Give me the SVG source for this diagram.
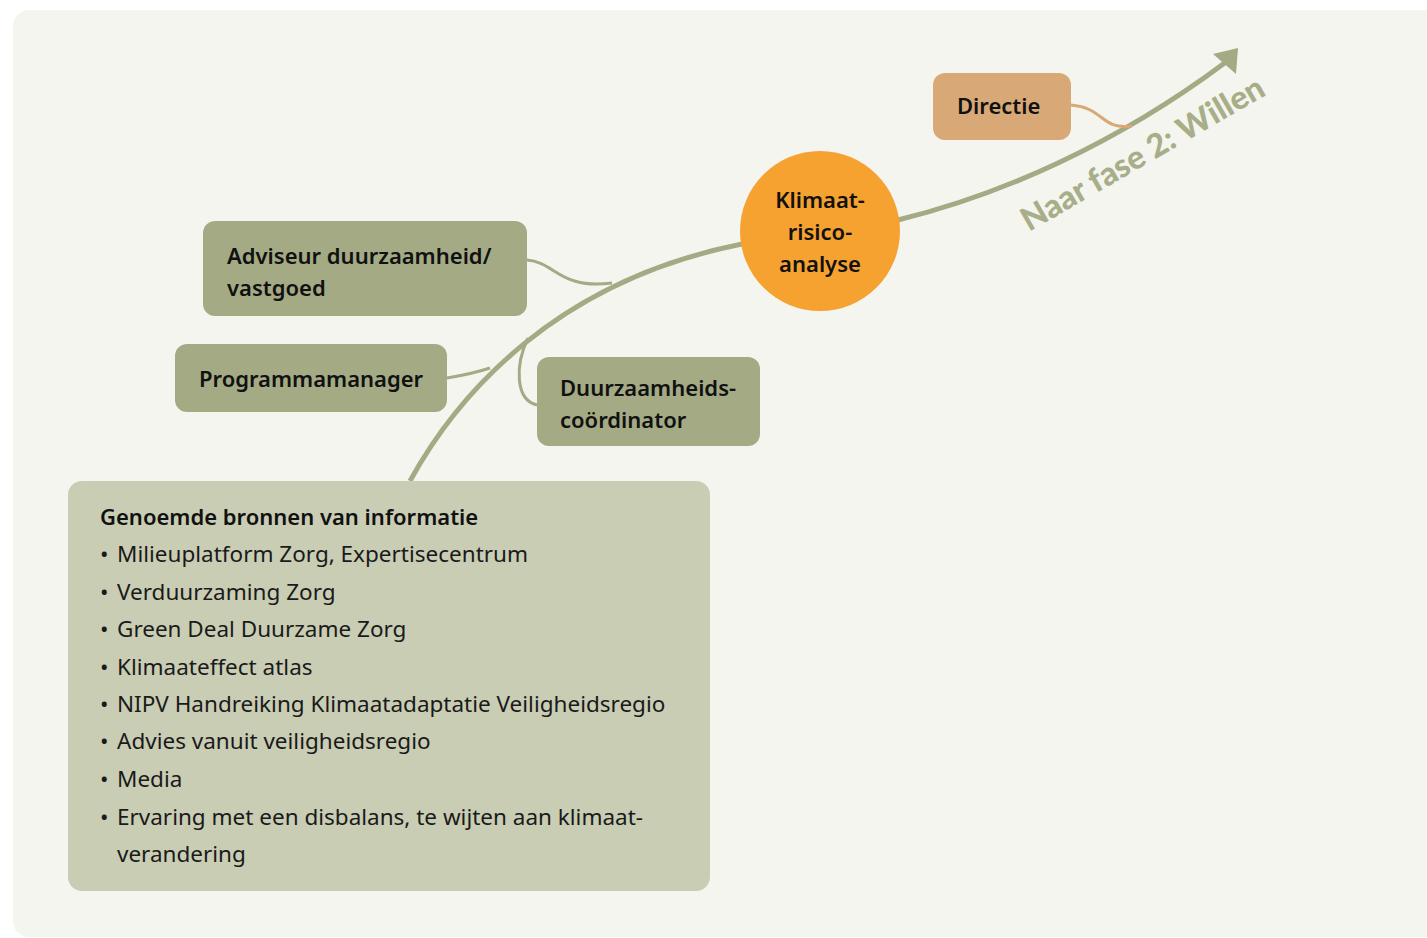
<svg xmlns="http://www.w3.org/2000/svg" width="1427" height="938" viewBox="0 0 1427 938">
<style>
.bg{fill:#f5f5f0}
.node{fill:#a4ab84}
.nt{font-family:"Noto Sans","Open Sans",sans-serif;font-weight:600;font-size:22px;fill:#111}
.it{font-family:"Noto Sans","Open Sans",sans-serif;font-size:22.5px;fill:#1a1a1a}
.main{fill:none;stroke:#a4ab84;stroke-width:5}
.thin{fill:none;stroke:#a4ab84;stroke-width:3}
</style>
<rect class="bg" x="13" y="10" width="1440" height="927" rx="16"/>
<g id="connectors">
<path class="main" d="M410,481 C460,390 560,280 742,244"/>
<path class="main" d="M898,220 C1000,195 1115,145 1226,62"/>
<path d="M1238,48 L1236,74 L1213,54 Z" fill="#a4ab84"/>
<path d="M1071,105 C1105,108 1100,130 1132,126" fill="none" stroke="#d9a877" stroke-width="3"/>
<path class="thin" d="M527,260 C555,262 560,290 612,283"/>
<path class="thin" d="M447,378 C465,375 478,372 490,368"/>
<path class="thin" d="M537,405 C515,400 515,365 528,338"/>
</g>
<g id="directie">
<rect x="933" y="73" width="138" height="67" rx="12" fill="#d9a877"/>
<text class="nt" x="957" y="114">Directie</text>
</g>
<g id="klimaat">
<circle cx="820" cy="231" r="80" fill="#f5a230"/>
<text class="nt" text-anchor="middle"><tspan x="820" y="208">Klimaat-</tspan><tspan x="820" y="240">risico-</tspan><tspan x="820" y="272">analyse</tspan></text>
</g>
<g id="adviseur">
<rect class="node" x="203" y="221" width="324" height="95" rx="12"/>
<text class="nt"><tspan x="227" y="264">Adviseur duurzaamheid/</tspan><tspan x="227" y="296">vastgoed</tspan></text>
</g>
<g id="programmamanager">
<rect class="node" x="175" y="344" width="272" height="68" rx="12"/>
<text class="nt" x="199" y="387">Programmamanager</text>
</g>
<g id="duurzaamheids">
<rect class="node" x="537" y="357" width="223" height="89" rx="12"/>
<text class="nt"><tspan x="560" y="396">Duurzaamheids-</tspan><tspan x="560" y="428">coördinator</tspan></text>
</g>
<g id="naar">
<text x="0" y="0" transform="translate(1029,232) rotate(-30)" font-family="Lato,'Open Sans',sans-serif" font-weight="900" font-size="32.5" fill="#a8ae88">Naar fase 2: Willen</text>
</g>
<g id="info">
<rect x="68" y="481" width="642" height="410" rx="14" fill="#c9cdb4"/>
<text class="nt" x="100" y="525">Genoemde bronnen van informatie</text>
<text class="it">
<tspan x="100" y="562">•</tspan><tspan x="117" y="562">Milieuplatform Zorg, Expertisecentrum</tspan>
<tspan x="100" y="600">•</tspan><tspan x="117" y="600">Verduurzaming Zorg</tspan>
<tspan x="100" y="637">•</tspan><tspan x="117" y="637">Green Deal Duurzame Zorg</tspan>
<tspan x="100" y="675">•</tspan><tspan x="117" y="675">Klimaateffect atlas</tspan>
<tspan x="100" y="712">•</tspan><tspan x="117" y="712">NIPV Handreiking Klimaatadaptatie Veiligheidsregio</tspan>
<tspan x="100" y="749">•</tspan><tspan x="117" y="749">Advies vanuit veiligheidsregio</tspan>
<tspan x="100" y="787">•</tspan><tspan x="117" y="787">Media</tspan>
<tspan x="100" y="825">•</tspan><tspan x="117" y="825">Ervaring met een disbalans, te wijten aan klimaat-</tspan>
<tspan x="117" y="862">verandering</tspan>
</text>
</g>
</svg>
